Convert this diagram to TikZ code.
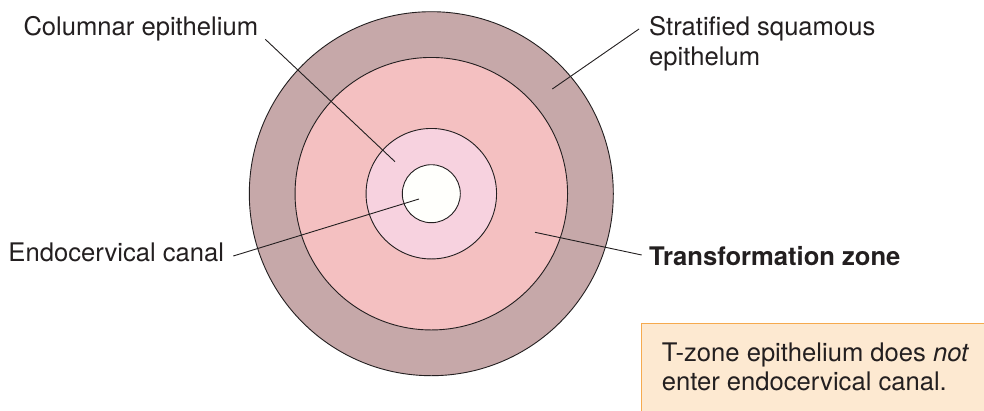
\documentclass[tikz,border=0pt]{standalone}
\usepackage{fontspec}
\setmainfont{TeX Gyre Heros}
\definecolor{txt}{HTML}{231F20}
\definecolor{ringout}{HTML}{C6A8A9}
\definecolor{ringmid}{HTML}{F4C0C1}
\definecolor{ringin}{HTML}{F7D2DF}
\definecolor{canal}{HTML}{FFFFFC}
\definecolor{boxfill}{HTML}{FDE9D1}
\definecolor{boxline}{HTML}{F6AA4E}
\begin{document}
\begin{tikzpicture}[x=1pt,y=-1pt,
  disc/.style={circle,draw=txt,line width=0.9pt,inner sep=0pt},
  lbl/.style={text=txt,inner sep=0pt,font=\fontsize{25.6}{30.5}\selectfont,align=left},
  leader/.style={draw=txt,line width=0.9pt}]
\useasboundingbox (0,0) rectangle (984,410);
\clip (0,0) rectangle (984,410);
\fill[white] (0,0) rectangle (984,410);
% circles
\node[disc,fill=ringout,minimum size=364pt] (outer) at (431.3,193.7) {};
\node[disc,fill=ringmid,minimum size=272.5pt] (mid) at (431.3,193.7) {};
\node[disc,fill=ringin,minimum size=130.5pt] (inner) at (431.3,193.7) {};
\node[disc,fill=canal,minimum size=58pt] (hole) at (431.3,193.7) {};
% labels
\node[lbl,anchor=base west] (colep) at (23.3,35) {Columnar epithelium};
\node[lbl,anchor=base west] (endo) at (8.3,261.7) {Endocervical canal};
\node[lbl,anchor=base west] (strat1) at (649,35) {Stratified squamous};
\node[lbl,anchor=base west] (strat2) at (649,65.5) {epithelum};
\node[lbl,anchor=base west,font=\fontsize{25.6}{30.5}\selectfont\bfseries] (tz) at (649,265) {Transformation zone};
% leader coordinates
\coordinate (c1) at (265.3,39.3);
\coordinate (c2) at (395,161.7);
\coordinate (s1) at (639,29);
\coordinate (s2) at (552.3,89);
\coordinate (e1) at (233.3,256);
\coordinate (e2) at (419,199);
\coordinate (t1) at (535,232.3);
\coordinate (t2) at (641.7,255);
\draw[leader] (c1) -- (c2);
\draw[leader] (s1) -- (s2);
\draw[leader] (e1) -- (e2);
\draw[leader] (t1) -- (t2);
% note box
\node[draw=boxline,fill=boxfill,line width=1.2pt,anchor=north west,minimum width=360pt,minimum height=100pt,inner sep=0pt] (note) at (641,322.7) {};
\node[lbl,anchor=base west] (note1) at (661.7,361.7) {T-zone epithelium does \textit{not}};
\node[lbl,anchor=base west] (note2) at (661.7,390) {enter endocervical canal.};
\end{tikzpicture}
\end{document}
